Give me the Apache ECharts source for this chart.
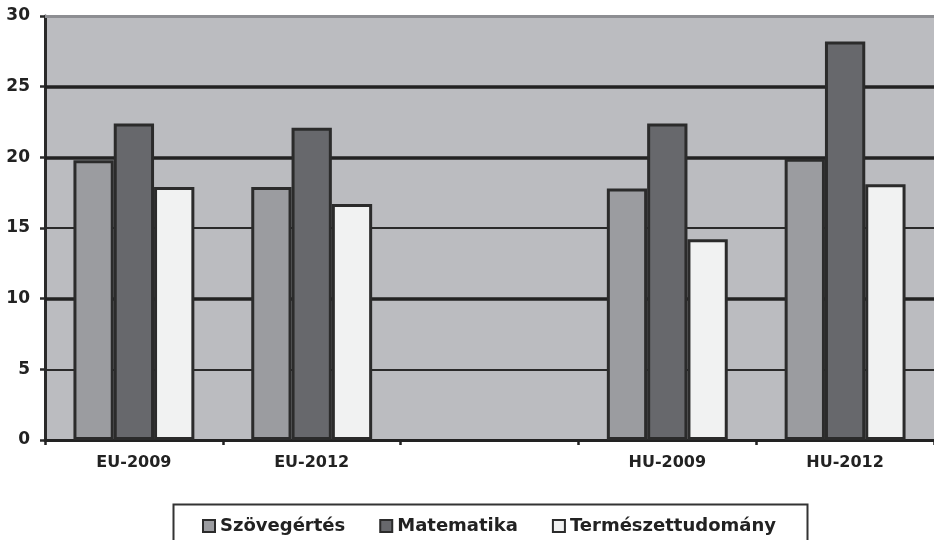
<!DOCTYPE html>
<html>
<head>
<meta charset="utf-8">
<script src="https://cdn.jsdelivr.net/npm/echarts@6/dist/echarts.min.js"></script>
<style>html,body{margin:0;padding:0;background:#fff}#c{width:934px;height:540px}</style>
</head>
<body>
<div id="c"></div>
<script>
const categories = ['EU-2009', 'EU-2012', '', 'HU-2009', 'HU-2012'];
const seriesNames = ['Szövegértés', 'Matematika', 'Természettudomány'];
const szovegertes = [19.8, 17.9, null, 17.8, 19.9];
const matematika = [22.4, 22.1, null, 22.4, 28.2];
const termeszettudomany = [17.9, 16.7, null, 14.2, 18.1];
const yTicks = [0, 5, 10, 15, 20, 25, 30];

const colors = ['#9b9ca0', '#67686c', '#f1f2f2'];
const values = [szovegertes, matematika, termeszettudomany];
const FONT = 'DejaVu Sans';

const chart = echarts.init(document.getElementById('c'));
const series = seriesNames.map((n, i) => ({
  name: n,
  type: 'bar',
  data: values[i],
  barGap: '0%',
  barCategoryGap: '32%',
  z: 3,
  itemStyle: { color: colors[i], borderColor: '#2b2b2b', borderWidth: 3 }
}));
series[0].markLine = {
  silent: true, symbol: 'none', z: 2,
  label: { show: false },
  data: [
    { yAxis: 10, lineStyle: { color: '#222', width: 3.5, type: 'solid' } },
    { yAxis: 20, lineStyle: { color: '#222', width: 3.5, type: 'solid' } },
    { yAxis: 25, lineStyle: { color: '#222', width: 3.5, type: 'solid' } },
    { yAxis: 30, lineStyle: { color: '#8d8e92', width: 3, type: 'solid' } }
  ]
};

chart.setOption({
  animation: false,
  backgroundColor: '#fff',
  grid: { left: 45, right: -2, top: 16, bottom: 100, show: true, backgroundColor: '#bbbcc0', borderWidth: 0 },
  xAxis: {
    type: 'category', data: categories,
    axisLine: { lineStyle: { color: '#222', width: 3 } },
    axisTick: { show: true, length: 5, lineStyle: { color: '#222', width: 2.5 } },
    axisLabel: { fontFamily: FONT, fontWeight: 'bold', fontSize: 16, color: '#222', margin: 15 }
  },
  yAxis: {
    type: 'value', min: yTicks[0], max: yTicks[yTicks.length - 1], interval: 5,
    axisLine: { show: true, lineStyle: { color: '#2a2a2a', width: 3 } },
    axisTick: { show: true, length: 5, lineStyle: { color: '#2a2a2a', width: 2.5 } },
    axisLabel: { fontFamily: FONT, fontWeight: 'bold', fontSize: 17, color: '#222', margin: 15 },
    splitLine: { show: true, lineStyle: { color: '#2a2a2a', width: 2 } }
  },
  legend: {
    left: 197, top: 512,
    itemWidth: 12, itemHeight: 12, itemGap: 34,
    icon: 'rect',
    itemStyle: { borderColor: '#2b2b2b', borderWidth: 2 },
    textStyle: { fontFamily: FONT, fontWeight: 'bold', fontSize: 18, color: '#222' },
    data: seriesNames
  },
  graphic: [{
    type: 'rect', left: 171, top: 502,
    shape: { width: 634, height: 37 },
    style: { fill: 'none', stroke: '#333', lineWidth: 2 }
  }],
  series: series
});
</script>
</body>
</html>
